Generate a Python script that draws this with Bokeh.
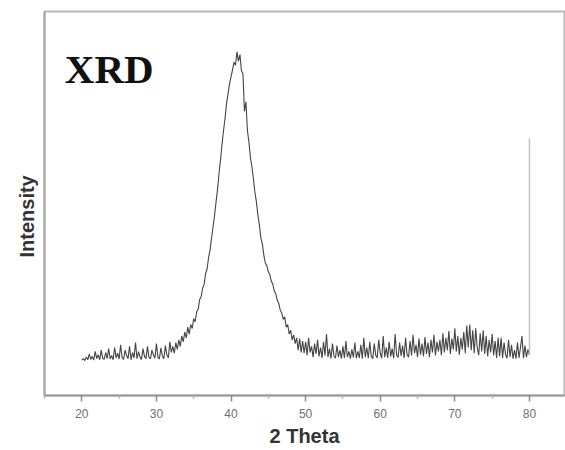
import math
from bokeh.plotting import figure
from bokeh.models import Range1d, FixedTicker, Label, Title
from bokeh.embed import file_html
from bokeh.resources import INLINE

# ---- data ----
theta_start = 20.0
theta_step = 0.2
intensity = [
    92, 96, 91, 100, 93,        # 20
    108, 94, 102, 92, 115,      # 21
    96, 106, 93, 118, 97,       # 22
    94, 112, 96, 122, 95,       # 23
    104, 93, 125, 98, 110,      # 24
    95, 132, 99, 94, 118,       # 25
    104, 96, 128, 93, 112,      # 26
    98, 138, 96, 114, 100,      # 27
    94, 122, 102, 96, 128,      # 28
    100, 95, 118, 106, 97,      # 29
    135, 100, 95, 124, 103,     # 30
    96, 130, 106, 98, 140,      # 31
    112, 128, 110, 138, 120,    # 32
    145, 128, 155, 140, 165,    # 33
    150, 178, 160, 185, 175,    # 34
    200, 192, 218, 225, 250,    # 35
    258, 280, 290, 318, 330,    # 36
    360, 380, 412, 440, 470,    # 37
    505, 538, 580, 615, 655,    # 38
    690, 722, 760, 785, 812,    # 39
    830, 848, 868, 860, 895,    # 40
    870, 888, 845, 838, 740,    # 41
    765, 690, 660, 620, 595,    # 42
    565, 530, 505, 470, 445,    # 43
    410, 395, 365, 345, 338,    # 44
    322, 315, 298, 290, 272,    # 45
    265, 248, 240, 222, 215,    # 46
    198, 205, 178, 185, 160,    # 47
    170, 145, 158, 135, 150,    # 48
    118, 148, 112, 142, 110,    # 49
    140, 105, 150, 112, 128,    # 50
    100, 135, 108, 145, 102,    # 51
    125, 98, 140, 104, 160,     # 52
    100, 122, 96, 135, 103,     # 53
    97, 130, 100, 118, 96,      # 54
    128, 98, 142, 100, 115,     # 55
    96, 120, 99, 138, 97,       # 56
    115, 98, 132, 96, 150,      # 57
    100, 125, 97, 140, 102,     # 58
    96, 135, 105, 98, 145,      # 59
    110, 97, 155, 100, 125,     # 60
    98, 140, 102, 122, 97,      # 61
    160, 105, 99, 138, 103,     # 62
    130, 98, 150, 106, 100,     # 63
    142, 104, 158, 110, 132,    # 64
    100, 148, 106, 135, 102,    # 65
    152, 108, 138, 100, 145,    # 66
    112, 158, 104, 140, 115,    # 67
    145, 105, 162, 112, 150,    # 68
    118, 168, 108, 148, 120,    # 69
    175, 115, 155, 106, 150,    # 70
    120, 165, 110, 182, 125,    # 71
    185, 118, 170, 110, 175,    # 72
    125, 105, 162, 115, 170,    # 73
    108, 155, 102, 145, 112,    # 74
    160, 104, 142, 98, 150,     # 75
    102, 150, 98, 138, 106,     # 76
    97, 145, 100, 132, 96,      # 77
    118, 96, 138, 98, 125,      # 78
    155, 97, 130, 100, 120,     # 79
    105,                        # 80
]
two_theta = [round(theta_start + i * theta_step, 1) for i in range(len(intensity))]

spike_theta = [80.0, 80.0]
spike_intensity = [105, 670]

major_ticks = [20, 30, 40, 50, 60, 70, 80]
minor_ticks = [15, 25, 35, 45, 55, 65, 75]
title_text = "XRD"
x_label = "2 Theta"
y_label = "Intensity"

# ---- figure ----
p = figure(width=565, height=450,
           x_range=Range1d(15, 84.7), y_range=Range1d(0, 1000),
           output_backend="svg", toolbar_location=None,
           min_border_left=44, min_border_right=1,
           min_border_top=11, min_border_bottom=55)
p.grid.visible = False
p.background_fill_color = "white"
p.border_fill_color = "white"
p.outline_line_color = "#b8b8b8"
p.outline_line_width = 2

xa = p.xaxis[0]
xa.ticker = FixedTicker(ticks=major_ticks, minor_ticks=minor_ticks)
xa.axis_line_color = "#9a9a9a"
xa.axis_line_width = 2
xa.major_tick_line_color = "#8a8a8a"
xa.major_tick_line_width = 1.5
xa.major_tick_out = 6
xa.major_tick_in = 0
xa.minor_tick_line_color = "#b0b0b0"
xa.minor_tick_line_width = 1.5
xa.minor_tick_out = 3
xa.minor_tick_in = 0
xa.major_label_text_font = "Liberation Sans"
xa.major_label_text_font_size = "12px"
xa.major_label_text_color = "#707070"
xa.major_label_standoff = 7
xa.axis_label = x_label
xa.axis_label_text_font = "Liberation Sans"
xa.axis_label_text_font_style = "bold"
xa.axis_label_text_font_size = "20px"
xa.axis_label_text_color = "#333333"
xa.axis_label_standoff = 4

ya = p.yaxis[0]
ya.ticker = FixedTicker(ticks=[])
ya.axis_line_color = "#a8a8a8"
ya.axis_line_width = 2
ya.major_tick_line_color = None
ya.minor_tick_line_color = None
ya.major_label_text_font_size = "0px"

p.add_layout(Title(text=y_label, align="left", offset=138, standoff=14,
                   text_font="Liberation Sans", text_font_style="bold",
                   text_font_size="20px", text_color="#333333"), "left")

p.line(two_theta, intensity, line_color="#444444", line_width=1.1)
p.line(spike_theta, spike_intensity, line_color="#c4c4c4", line_width=1.5)

p.add_layout(Label(x=17.72, y=849, text=title_text,
                   text_font="Liberation Serif", text_font_style="bold",
                   text_font_size="41px", text_color="#111111",
                   text_align="left", text_baseline="alphabetic"))

open("out.html", "w").write(file_html(p, INLINE))
